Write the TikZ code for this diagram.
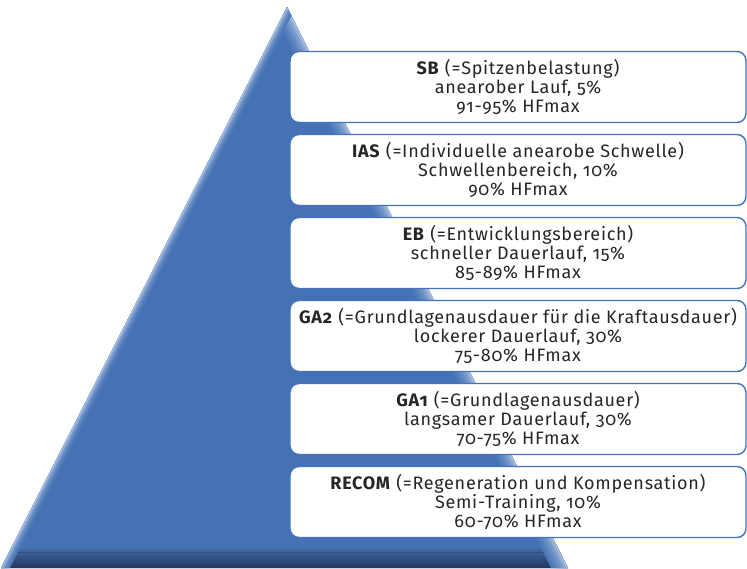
\documentclass[tikz,border=0pt]{standalone}
\usepackage{fontspec}
\setmainfont{Fira Sans}[Numbers=OldStyle, LetterSpace=4]
\definecolor{pyr}{RGB}{68,114,180}
\definecolor{pyrlight}{RGB}{190,207,234}
\definecolor{banddark}{RGB}{34,55,94}
\definecolor{bandtop}{RGB}{66,104,162}
\definecolor{boxline}{RGB}{68,114,190}
\tikzset{
  infobox/.style={draw=boxline, line width=1.4pt, fill=white, rounded corners=9pt,
    minimum width=456pt, minimum height=71pt, align=center, inner sep=0pt,
    font=\fontsize{18}{18.6}\selectfont, text=black!85},
}
\begin{document}
\begin{tikzpicture}[x=1pt,y=-1pt]
\useasboundingbox (0,0) rectangle (747,568);
% pyramid corners
\coordinate (apex) at (287,7);
\coordinate (bl) at (1,568);
\coordinate (br) at (568,568);
\fill[pyr] (apex)--(bl)--(br)--cycle;
\begin{scope}
  \clip (apex)--(bl)--(br)--cycle;
  % dark base strip
  \shade[top color=bandtop, bottom color=banddark] (0,549) rectangle (747,568);
  \draw[banddark!60!pyr, line width=1pt] (0,552.5) -- (747,552.5);
  % soft bevel along the sloped sides
  \foreach \w/\p in {30/8,24/18,18/30,12/45,7/62,3/80}{
    \draw[line width=\w pt, pyrlight!\p!pyr] (apex)--(br);
  }
  \foreach \w/\p in {16/8,12/18,9/30,6/45,4/62,2/80}{
    \draw[line width=\w pt, pyrlight!\p!pyr] (apex)--(bl);
  }
\end{scope}
% training zones
\node[infobox] (sb)    at (518,87)  {\textbf{SB} (=Spitzenbelastung)\\anearober Lauf, 5\%\\91-95\% HFmax};
\node[infobox] (ias)   at (518,170) {\textbf{IAS} (=Individuelle anearobe Schwelle)\\Schwellenbereich, 10\%\\90\% HFmax};
\node[infobox] (eb)    at (518,253) {\textbf{EB} (=Entwicklungsbereich)\\schneller Dauerlauf, 15\%\\85-89\% HFmax};
\node[infobox] (ga2)   at (518,336) {\textbf{GA2} (=Grundlagenausdauer für die Kraftausdauer)\\lockerer Dauerlauf, 30\%\\75-80\% HFmax};
\node[infobox] (ga1)   at (518,419) {\textbf{GA1} (=Grundlagenausdauer)\\langsamer Dauerlauf, 30\%\\70-75\% HFmax};
\node[infobox] (recom) at (518,502) {\textbf{RECOM} (=Regeneration und Kompensation)\\Semi-Training, 10\%\\60-70\% HFmax};
\end{tikzpicture}
\end{document}
